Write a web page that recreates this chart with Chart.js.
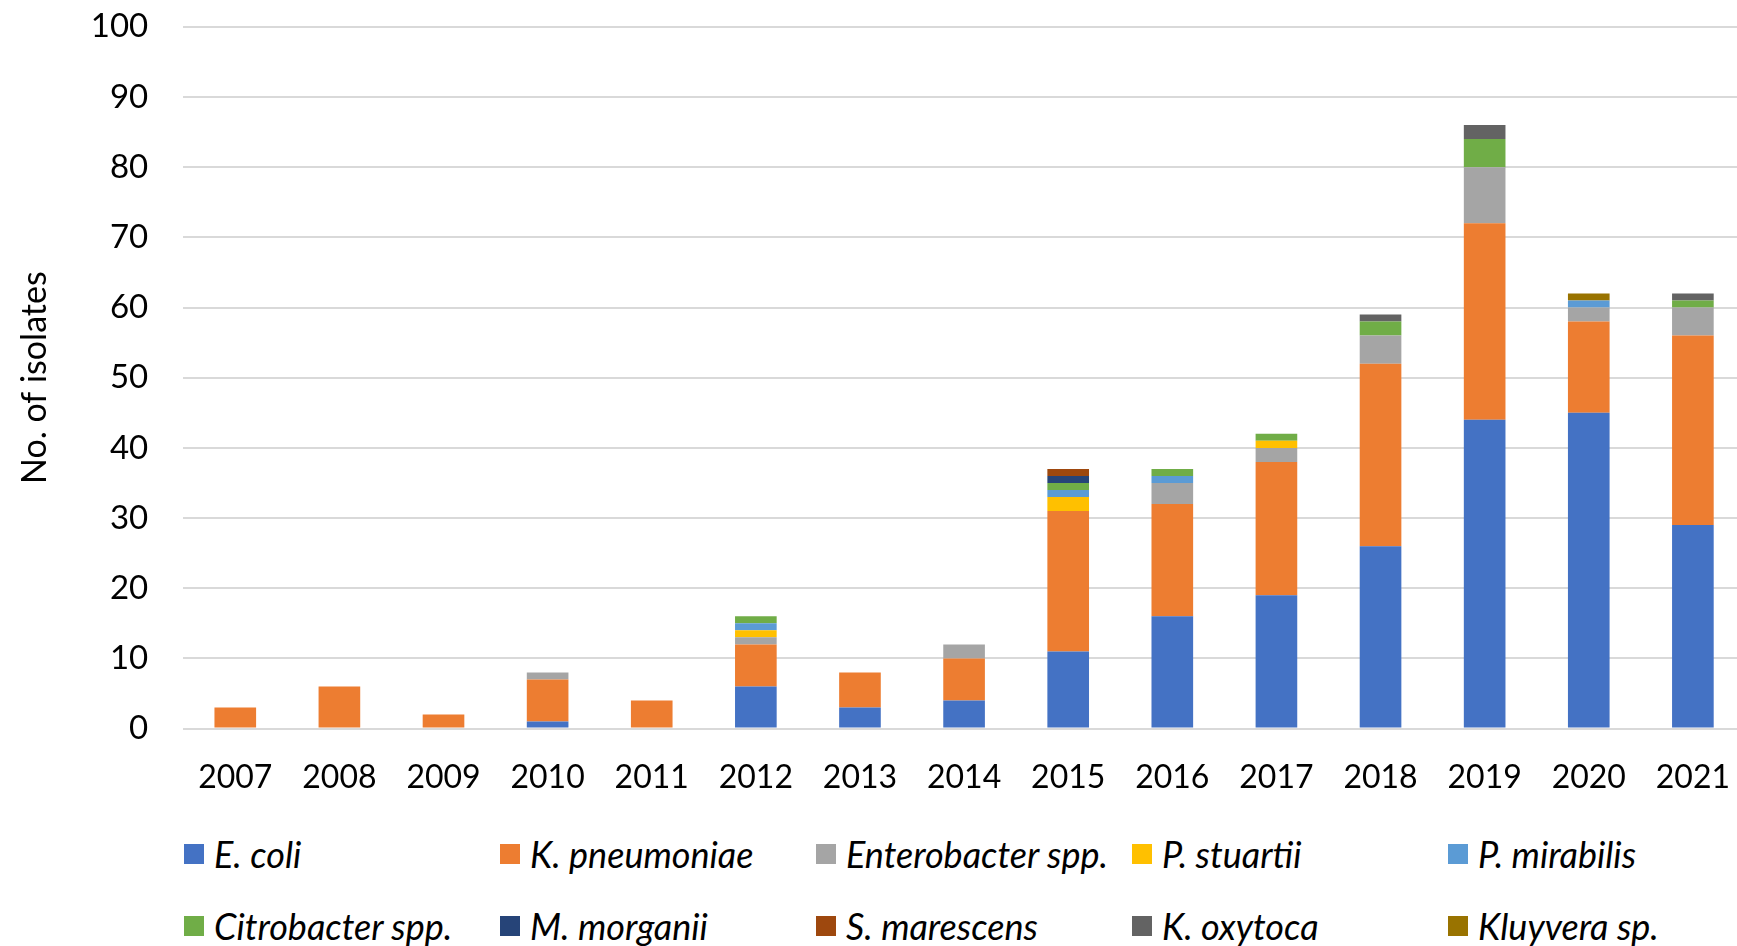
<!DOCTYPE html>
<html>
<head>
<meta charset="utf-8">
<script src="https://cdn.jsdelivr.net/npm/chart.js@4"></script>
<style>
  html, body { margin: 0; padding: 0; background: #fff; overflow: hidden; }
  #wrap { position: absolute; left: 0; top: -28px; width: 1760px; height: 855px; }
  #legend { position: absolute; left: 184px; top: 836px; display: grid;
    grid-template-columns: repeat(5, 316px); row-gap: 36px;
    font-family: Lato, "Liberation Sans", sans-serif; font-style: italic; font-size: 36px; color: #000; }
  #legend .item { display: flex; align-items: center; height: 36px; white-space: nowrap; }
  #legend .box { width: 20px; height: 20px; margin-right: 10px; flex: none; }
</style>
</head>
<body>
<div id="wrap"><canvas id="isolatesChart"></canvas></div>
<div id="legend"></div>
<script>
const years = ['2007', '2008', '2009', '2010', '2011', '2012', '2013', '2014', '2015', '2016', '2017', '2018', '2019', '2020', '2021'];
const eColi       = [0, 0, 0, 1, 0, 6, 3, 4, 11, 16, 19, 26, 44, 45, 29];
const kPneumoniae = [3, 6, 2, 6, 4, 6, 5, 6, 20, 16, 19, 26, 28, 13, 27];
const enterobacter = [0, 0, 0, 1, 0, 1, 0, 2, 0, 3, 2, 4, 8, 2, 4];
const pStuartii   = [0, 0, 0, 0, 0, 1, 0, 0, 2, 0, 1, 0, 0, 0, 0];
const pMirabilis  = [0, 0, 0, 0, 0, 1, 0, 0, 1, 1, 0, 0, 0, 1, 0];
const citrobacter = [0, 0, 0, 0, 0, 1, 0, 0, 1, 1, 1, 2, 4, 0, 1];
const mMorganii   = [0, 0, 0, 0, 0, 0, 0, 0, 1, 0, 0, 0, 0, 0, 0];
const sMarescens  = [0, 0, 0, 0, 0, 0, 0, 0, 1, 0, 0, 0, 0, 0, 0];
const kOxytoca    = [0, 0, 0, 0, 0, 0, 0, 0, 0, 0, 0, 1, 2, 0, 1];
const kluyvera    = [0, 0, 0, 0, 0, 0, 0, 0, 0, 0, 0, 0, 0, 1, 0];

const series = [
  { label: 'E. coli', data: eColi, color: '#4472C4' },
  { label: 'K. pneumoniae', data: kPneumoniae, color: '#ED7D31' },
  { label: 'Enterobacter spp.', data: enterobacter, color: '#A5A5A5' },
  { label: 'P. stuartii', data: pStuartii, color: '#FFC000' },
  { label: 'P. mirabilis', data: pMirabilis, color: '#5B9BD5' },
  { label: 'Citrobacter spp.', data: citrobacter, color: '#70AD47' },
  { label: 'M. morganii', data: mMorganii, color: '#264478' },
  { label: 'S. marescens', data: sMarescens, color: '#9E480E' },
  { label: 'K. oxytoca', data: kOxytoca, color: '#636363' },
  { label: 'Kluyvera sp.', data: kluyvera, color: '#997300' },
];

const fam = 'Lato, "Liberation Sans", sans-serif';

new Chart(document.getElementById('isolatesChart').getContext('2d'), {
  type: 'bar',
  data: {
    labels: years,
    datasets: series.map((s) => ({
      label: s.label,
      data: s.data,
      backgroundColor: s.color,
      borderWidth: 0,
      barPercentage: 0.4,
      categoryPercentage: 1,
    })),
  },
  options: {
    responsive: true,
    maintainAspectRatio: false,
    animation: false,
    layout: { padding: { top: 6, left: 15, right: 0, bottom: 0 } },
    plugins: {
      legend: { display: false },
      tooltip: { enabled: false },
    },
    scales: {
      x: {
        stacked: true,
        grid: { display: false, drawTicks: false },
        border: { display: false },
        ticks: { color: '#000', font: { family: fam, size: 32 }, padding: 30, maxRotation: 0 },
      },
      y: {
        stacked: true,
        min: 0,
        max: 100,
        grid: { color: '#d9d9d9', lineWidth: 2, drawTicks: false },
        border: { display: false },
        ticks: { stepSize: 10, color: '#000', font: { family: fam, size: 33 }, padding: 35 },
        title: {
          display: true,
          text: 'No. of isolates',
          color: '#000',
          font: { family: fam, size: 34 },
          padding: { top: 0, bottom: 0 },
        },
      },
    },
  },
});

// legend laid out like the original, 5 columns x 2 rows
const legendEl = document.getElementById('legend');
series.forEach((s) => {
  const item = document.createElement('div');
  item.className = 'item';
  item.innerHTML = '<span class="box" style="background:' + s.color + '"></span><span>' + s.label + '</span>';
  legendEl.appendChild(item);
});
</script>
</body>
</html>
